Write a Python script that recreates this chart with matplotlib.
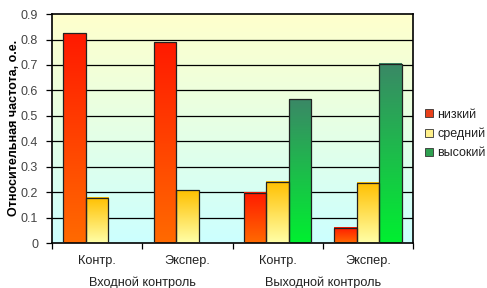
import numpy as np
import matplotlib
matplotlib.use("Agg")
import matplotlib.pyplot as plt
from matplotlib.colors import LinearSegmentedColormap
from matplotlib.patches import Rectangle

plt.rcParams['font.family'] = ['Liberation Sans', 'DejaVu Sans']

categories = ["Контр.", "Экспер.", "Контр.", "Экспер."]
groups = ["Входной контроль", "Выходной контроль"]
series_names = ["низкий", "средний", "высокий"]
low = [0.825, 0.79, 0.197, 0.06]
mid = [0.177, 0.208, 0.24, 0.236]
high = [0.0, 0.0, 0.566, 0.704]
yticks = [0, 0.1, 0.2, 0.3, 0.4, 0.5, 0.6, 0.7, 0.8, 0.9]

grad = {
    "низкий": ("#FF6A00", "#FF1A00"),
    "средний": ("#FFFFA8", "#FFC000"),
    "высокий": ("#00F030", "#3A8866"),
}
legend_cols = {"низкий": "#E8401A", "средний": "#FFF08A", "высокий": "#2FA050"}

fig = plt.figure(figsize=(4.87, 2.88), dpi=100)
ax = fig.add_axes([0.107, 0.156, 0.741, 0.795])
ax.set_xlim(-0.5, 3.5)
ax.set_ylim(0, 0.9)

# background gradient
bg = LinearSegmentedColormap.from_list("bg", ["#CCFFFF", "#FFFFCC"])
ax.imshow(np.linspace(0, 1, 256).reshape(-1, 1), cmap=bg, aspect='auto',
          extent=[-0.5, 3.5, 0, 0.9], origin='lower', zorder=0)

for y in yticks[1:-1]:
    ax.axhline(y, color='black', lw=0.9, zorder=1)

x = np.arange(len(categories))
w = 0.25
for i, (name, vals) in enumerate(zip(series_names, [low, mid, high])):
    cmap = LinearSegmentedColormap.from_list(name, list(grad[name]))
    for xi, v in zip(x + (i - 1) * w, vals):
        if v <= 0:
            continue
        ax.imshow(np.linspace(0, 1, 128).reshape(-1, 1), cmap=cmap, aspect='auto',
                  extent=[xi - w / 2, xi + w / 2, 0, v], origin='lower', zorder=2)
        ax.add_patch(Rectangle((xi - w / 2, 0), w, v, fill=False, ec='#222222', lw=0.9, zorder=3))

ax.set_xlim(-0.5, 3.5)
ax.set_ylim(0, 0.9)
for s in ax.spines.values():
    s.set_linewidth(1.2)
    s.set_color('black')

ax.set_yticks(yticks)
ax.set_yticklabels([f"{t:g}" for t in yticks], color='#444444', fontsize=9)
ax.tick_params(axis='y', direction='out', length=4, width=0.9, pad=6)

# x ticks at boundaries
ax.set_xticks(np.arange(-0.5, 4, 1.0))
ax.set_xticklabels([])
ax.tick_params(axis='x', direction='out', length=4, width=0.9)
for xi, c in zip(x, categories):
    ax.annotate(c, xy=(xi, 0), xycoords=('data', 'axes fraction'),
                xytext=(0, -8.5), textcoords='offset points', ha='center', va='top',
                fontsize=9.2, color='#222222')
for gi, g in enumerate(groups):
    ax.annotate(g, xy=(gi * 2 + 0.5, 0), xycoords=('data', 'axes fraction'),
                xytext=(0, -24), textcoords='offset points', ha='center', va='top',
                fontsize=9.2, color='#222222')

fig.text(0.029, 0.555, "Относительная частота, о.е.", rotation=90, ha='center', va='center',
         fontsize=9, fontweight='bold')

handles = [Rectangle((0, 0), 1, 1, fc=legend_cols[n], ec='#333333', lw=0.6) for n in series_names]
leg = fig.legend(handles, series_names, loc='center left', bbox_to_anchor=(0.873, 0.535),
                 frameon=False, fontsize=9, handlelength=0.6, handleheight=0.6,
                 handletextpad=0.35, labelspacing=0.55, borderpad=0, borderaxespad=0)
for t in leg.get_texts():
    t.set_color('#222222')

fig.savefig("out.png", dpi=100, facecolor='white')
